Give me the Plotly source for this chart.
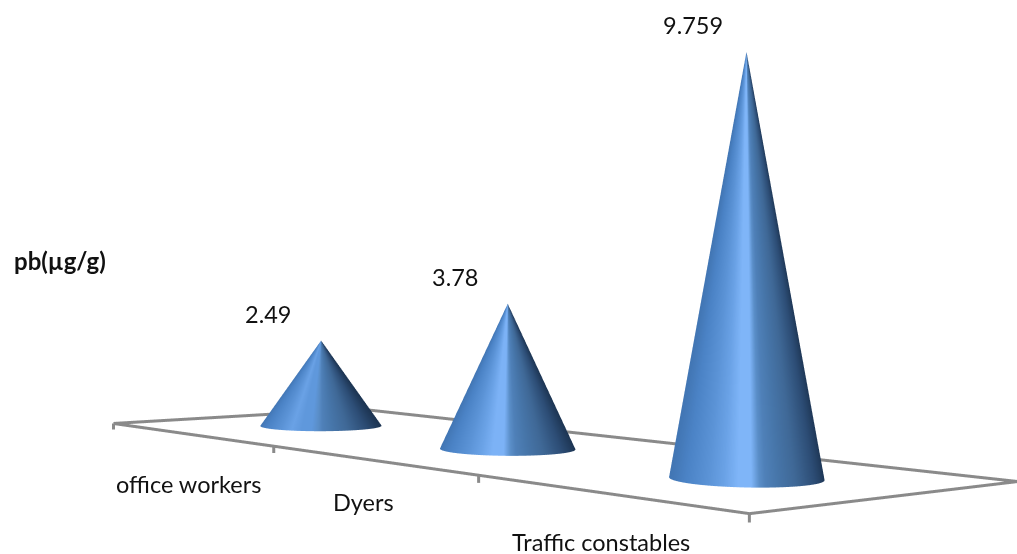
import math

import numpy as np
import plotly.graph_objects as go

# Chart content
categories = ["office workers", "Dyers", "Traffic constables"]
lead_values = [2.49, 3.78, 9.759]
value_labels = ["2.49", "3.78", "9.759"]
axis_title = "pb(µg/g)"

# Category label offsets from the middle of each bin on the front edge, in pixels
label_drops = [49.5, 42, 49]
label_shifts = [-1, -6, -3]

# Brightest tone of each cone's highlight band
highlight_tones = ["#5f98dc", "#7cb2f6", "#7fb5f8"]

FIG_W, FIG_H = 1017, 554

# World model: the viewer sits at the origin, +X right, +Y away, +Z up
FOCAL = 2000.0
FLOOR_Z = -0.089
FLOOR_ORIGIN = np.array([-0.1975, 1.0])
CATEGORY_AXIS = np.array([0.2787, -0.326])
DEPTH_AXIS = np.array([0.1156, 0.099])
CONE_RADIUS = 0.03
Z_PER_UNIT = 0.017
TICK_LEN = 0.003

# WebGL scene model: fixed 45 degree field of view, so depth is rescaled
# to reproduce the long lens of the world model
GL_FOCAL = (FIG_H / 2) / math.tan(math.pi / 8)
SCALE = 6.0
EYE_DIST = 1.8
HORIZON_SHIFT = 0.0145
HORIZON_TILT = -0.0064

GRAY = "#8a8a8a"
LINE_WIDTH = 6


def cone_scale(tone):
    """Left-to-right shading across a cone, with a bright band left of centre."""
    return [
        [0.00, "#4276b4"],
        [0.08, "#4b83c6"],
        [0.20, "#5a92d5"],
        [0.30, "#6aa2e6"],
        [0.39, tone],
        [0.47, tone],
        [0.52, "#5a8ec8"],
        [0.56, "#4f80b8"],
        [0.64, "#4776aa"],
        [0.76, "#3f6896"],
        [0.90, "#2c4c74"],
        [1.00, "#1d3553"],
    ]


def to_scene(x, y, z):
    """World coordinates to scene data coordinates."""
    x, y, z = np.asarray(x, float), np.asarray(y, float), np.asarray(z, float)
    sheared = z + HORIZON_SHIFT * y + HORIZON_TILT * x
    return x * SCALE, y * GL_FOCAL / FOCAL * SCALE - EYE_DIST, sheared * SCALE


def floor_point(s, t):
    return FLOOR_ORIGIN + s * CATEGORY_AXIS + t * DEPTH_AXIS


fig = go.Figure()

# Floor outline
corners = [floor_point(*st) for st in [(0, 0), (1, 0), (1, 1), (0, 1), (0, 0)]]
fx, fy, fz = to_scene([c[0] for c in corners], [c[1] for c in corners], [FLOOR_Z] * 5)
fig.add_trace(go.Scatter3d(x=fx, y=fy, z=fz, mode="lines",
                           line=dict(color=GRAY, width=LINE_WIDTH), hoverinfo="skip"))

# Tick marks along the front edge
n_cat = len(categories)
for i in range(n_cat + 1):
    p = floor_point(i / n_cat, 0)
    tx, ty, tz = to_scene([p[0], p[0]], [p[1], p[1]], [FLOOR_Z, FLOOR_Z - TICK_LEN])
    fig.add_trace(go.Scatter3d(x=tx, y=ty, z=tz, mode="lines",
                               line=dict(color=GRAY, width=LINE_WIDTH), hoverinfo="skip"))

annotations = []
label_font = dict(family="Lato", size=23.5, color="#111111")

phi = np.linspace(0, 2 * np.pi, 241)
rise = np.linspace(0, 1, 61)
PHI, RISE = np.meshgrid(phi, rise)
for i, value in enumerate(lead_values):
    c = floor_point((i + 0.5) / n_cat, 0.5)
    height = value * Z_PER_UNIT
    cx = c[0] + CONE_RADIUS * (1 - RISE) * np.cos(PHI)
    cy = c[1] + CONE_RADIUS * (1 - RISE) * np.sin(PHI)
    cz = FLOOR_Z + height * RISE
    sx, sy, sz = to_scene(cx, cy, cz)
    fig.add_trace(go.Surface(
        x=sx, y=sy, z=sz,
        surfacecolor=(1 + np.cos(PHI)) / 2, cmin=0, cmax=1,
        colorscale=cone_scale(highlight_tones[i]), showscale=False, hoverinfo="skip",
        lighting=dict(ambient=1, diffuse=0, specular=0, roughness=1, fresnel=0),
    ))

    # Value label, up and to the left of the apex
    ax, ay, az = to_scene(c[0], c[1], FLOOR_Z + height)
    annotations.append(dict(x=float(ax), y=float(ay), z=float(az),
                            text=value_labels[i], showarrow=False,
                            xshift=-53, yshift=27, font=label_font))

    # Category label below its bin on the front edge
    e = floor_point((i + 0.5) / n_cat, 0)
    ex, ey, ez = to_scene(e[0], e[1], FLOOR_Z)
    annotations.append(dict(x=float(ex), y=float(ey), z=float(ez),
                            text=categories[i], showarrow=False,
                            xshift=label_shifts[i], yshift=-label_drops[i], font=label_font))

hidden = dict(visible=False, showgrid=False, zeroline=False, showline=False,
              showticklabels=False, showbackground=False, showspikes=False)

fig.update_layout(
    width=FIG_W, height=FIG_H, autosize=False,
    margin=dict(l=0, r=0, t=0, b=0),
    paper_bgcolor="white", showlegend=False,
    scene=dict(
        domain=dict(x=[0, 1], y=[0, 1]),
        xaxis=dict(range=[-2, 2], **hidden),
        yaxis=dict(range=[-1, 1], **hidden),
        zaxis=dict(range=[-1, 1], **hidden),
        aspectmode="manual",
        aspectratio=dict(x=4, y=2, z=2),
        camera=dict(eye=dict(x=0, y=-EYE_DIST, z=0),
                    center=dict(x=0, y=0, z=0),
                    up=dict(x=0, y=0, z=1),
                    projection=dict(type="perspective")),
        annotations=annotations,
    ),
    annotations=[dict(x=60 / FIG_W, y=1 - 260 / FIG_H, xref="paper", yref="paper",
                      text=f"<b>{axis_title}</b>", showarrow=False,
                      font=dict(family="Lato", size=24, color="#111111"),
                      yanchor="middle", xanchor="center")],
)

fig.write_html("out.html")
